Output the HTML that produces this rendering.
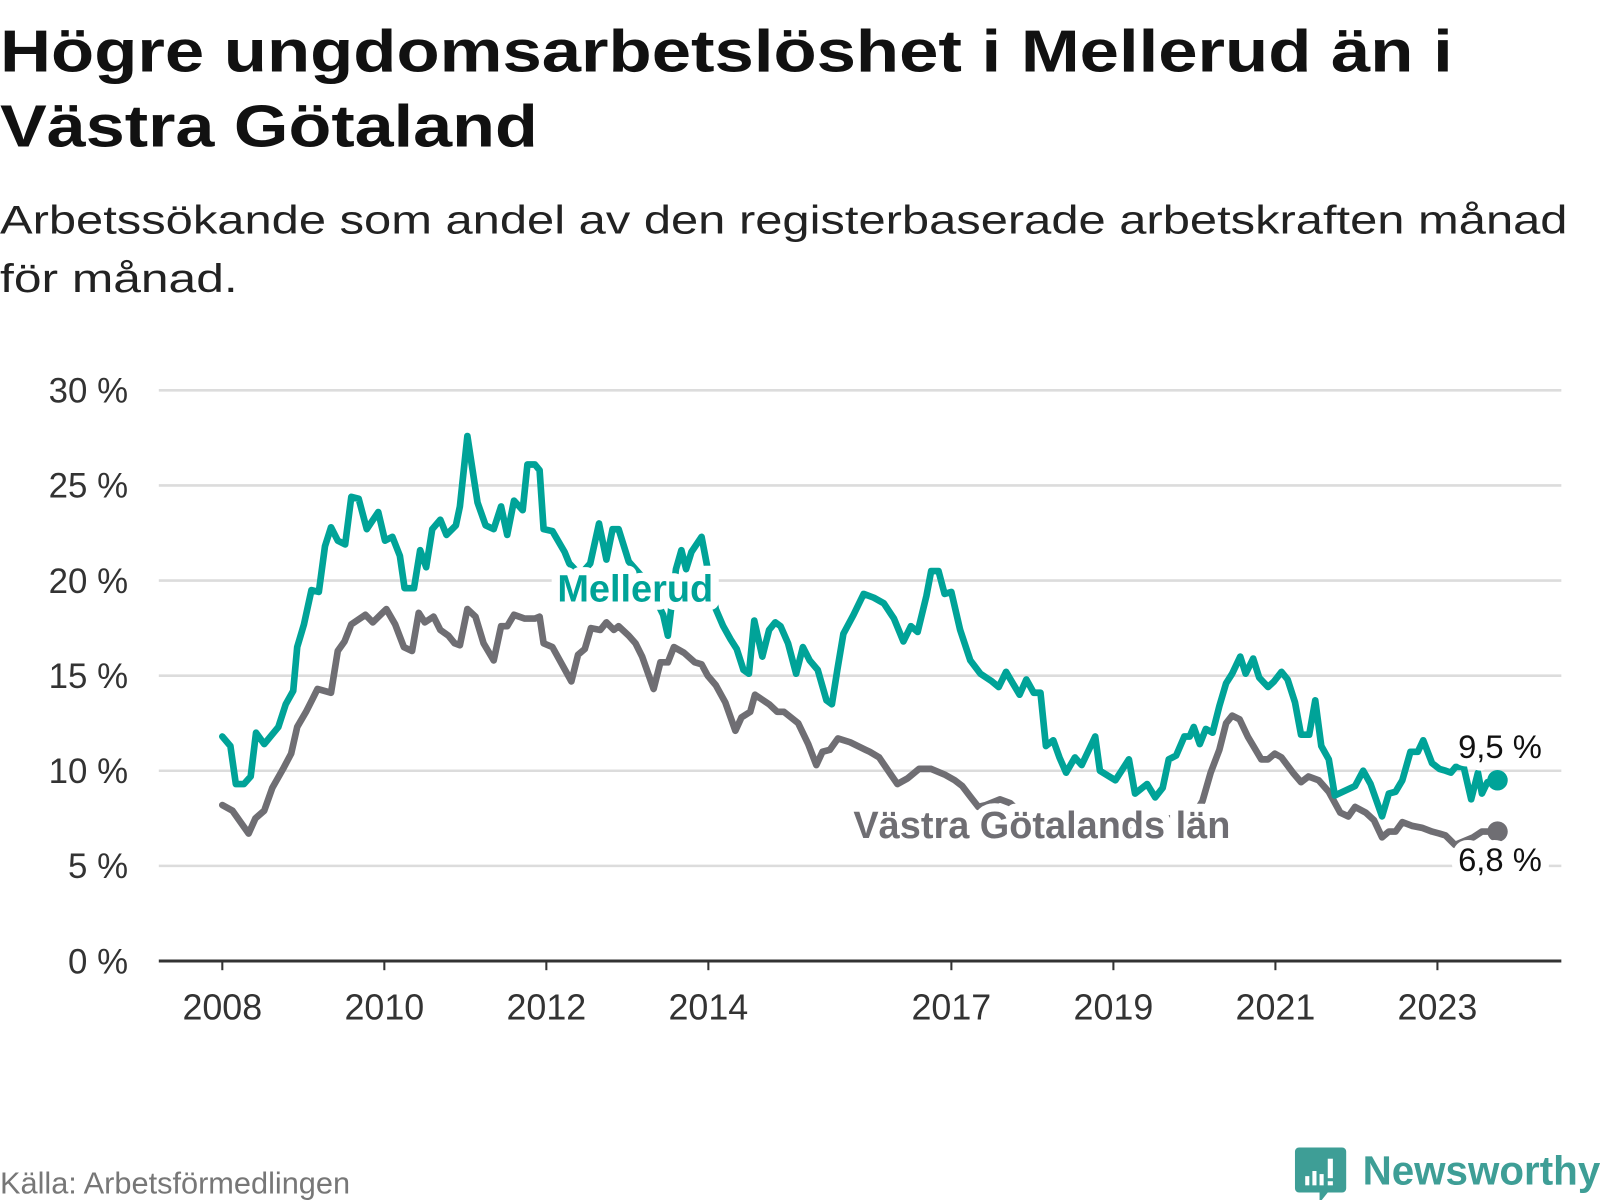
<!DOCTYPE html>
<html><head><meta charset="utf-8"><style>
html,body{margin:0;padding:0;background:#fff;}
svg{display:block;font-family:"Liberation Sans",sans-serif;}
</style></head><body>
<svg id="chart" width="1600" height="1200" viewBox="0 0 1600 1200">
<g transform="scale(1.0245)">
<text x="0" y="70" font-size="58" font-weight="bold" fill="#111" textLength="1418" lengthAdjust="spacingAndGlyphs">Högre ungdomsarbetslöshet i Mellerud än i</text>
<text x="0" y="143" font-size="58" font-weight="bold" fill="#111" textLength="525" lengthAdjust="spacingAndGlyphs">Västra Götaland</text>
<text x="0" y="228" font-size="39" fill="#222" textLength="1530" lengthAdjust="spacingAndGlyphs">Arbetssökande som andel av den registerbaserade arbetskraften månad</text>
<text x="0" y="285" font-size="39" fill="#222" textLength="232" lengthAdjust="spacingAndGlyphs">för månad.</text>
<g id="grid"></g>
<g id="xaxis"></g>
<g id="lines"></g>
<text x="0" y="1165" font-size="30" fill="#777">Källa: Arbetsförmedlingen</text>
<g>
<path d="M1268 1120 h42 a4 4 0 0 1 4 4 v36 a4 4 0 0 1 -4 4 h-14 l-8 10 v-10 h-20 a4 4 0 0 1 -4 -4 v-36 a4 4 0 0 1 4 -4z" fill="#3e9e96"/>
<rect x="1274" y="1148" width="4" height="9" fill="#fff"/><rect x="1281" y="1143" width="4" height="14" fill="#fff"/><rect x="1288" y="1146" width="4" height="11" fill="#fff"/><rect x="1296" y="1131" width="5" height="19" fill="#fff"/><rect x="1296" y="1153" width="5" height="4" fill="#fff"/>
<text x="1330" y="1156" font-size="40" font-weight="bold" fill="#3e9e96" textLength="232" lengthAdjust="spacingAndGlyphs">Newsworthy</text>
</g>
</g>
</svg>
<script>
const yTicks = [0, 5, 10, 15, 20, 25, 30];
const xTickYears = [2008, 2010, 2012, 2014, 2017, 2019, 2021, 2023];
// months since Jan 2008
const mellerudMonths = [0,1.2,2.0,3.2,4.2,5.0,6.2,8.3,9.4,10.5,11.1,12.1,13.2,14.3,15.2,16.1,17.1,18.2,19.1,20.2,21.4,23.1,24.1,25.2,26.3,27.0,28.4,29.3,30.2,31.1,32.3,33.2,34.6,35.2,36.3,37.8,39.0,40.2,41.3,42.2,43.2,44.5,45.2,46.3,47.0,47.6,48.9,50.7,51.4,53.0,54.5,55.8,56.9,57.8,58.7,60.2,62.7,64.2,65.3,66.0,67.2,68.0,68.7,69.5,71.0,71.9,73.1,74.2,75.3,76.2,77.2,78.0,78.8,80.0,81.0,81.9,82.7,83.8,85.0,86.0,87.0,88.2,89.5,90.3,91.1,92.0,93.5,95.0,96.5,98.0,99.5,100.9,102.0,103.0,104.3,105.0,106.1,107.0,108.0,109.3,110.8,112.3,114.0,115.0,116.1,118.1,119.1,120.2,121.2,122.0,123.1,124.0,125.0,126.3,127.3,129.3,130.0,132.3,134.3,135.2,137.0,138.2,139.3,140.2,141.3,142.5,143.3,143.9,144.8,145.7,146.7,147.7,148.7,149.6,150.8,151.6,152.7,153.6,154.9,155.8,156.9,157.8,158.9,159.8,161.0,161.9,162.8,163.9,164.8,167.8,169.0,170.1,171.8,172.8,173.8,174.8,176.0,177.1,177.9,179.2,180.3,181.2,182.0,182.7,183.9,185.0,186.0,186.6,187.4,188.9];
const mellerudValues = [11.8,11.3,9.3,9.3,9.7,12.0,11.4,12.3,13.5,14.2,16.5,17.7,19.5,19.4,21.8,22.8,22.1,21.9,24.4,24.3,22.7,23.6,22.1,22.3,21.3,19.6,19.6,21.6,20.7,22.7,23.2,22.4,22.9,23.9,27.6,24.1,22.9,22.7,23.9,22.4,24.2,23.7,26.1,26.1,25.8,22.7,22.6,21.5,20.9,20.3,20.9,23.0,21.1,22.7,22.7,21.0,20.0,19.0,18.2,17.1,20.6,21.6,20.6,21.5,22.3,20.6,18.5,17.6,16.9,16.4,15.3,15.1,17.9,16.0,17.4,17.8,17.6,16.7,15.1,16.5,15.8,15.3,13.7,13.5,15.3,17.2,18.2,19.3,19.1,18.8,18.0,16.8,17.6,17.3,19.2,20.5,20.5,19.3,19.4,17.4,15.8,15.1,14.7,14.4,15.2,14.0,14.8,14.1,14.1,11.3,11.6,10.7,9.9,10.7,10.3,11.8,10.0,9.5,10.6,8.8,9.3,8.6,9.1,10.6,10.8,11.8,11.8,12.3,11.4,12.2,12.0,13.4,14.6,15.1,16.0,15.1,15.9,14.9,14.4,14.7,15.2,14.8,13.6,11.9,11.9,13.7,11.3,10.6,8.7,9.2,10.0,9.3,7.6,8.8,8.9,9.5,11.0,11.0,11.6,10.4,10.1,10.0,9.9,10.2,10.2,8.5,9.9,8.8,9.4,9.5];
const vgMonths = [0,1.5,3.9,4.9,6.2,7.4,9.0,10.2,11.1,12.4,13.4,14.1,16.1,17.1,18.1,19.1,21.2,22.3,24.3,25.6,26.9,28.1,29.1,30.0,31.3,32.3,33.5,34.4,35.2,36.3,37.5,38.7,40.2,41.3,42.2,43.2,44.8,46.3,47.0,47.6,48.9,51.7,52.7,53.7,54.6,56.0,56.9,58.0,58.7,60.2,61.2,62.2,63.9,64.9,66.0,66.9,68.4,70.0,71.0,71.9,73.1,74.5,76.0,76.9,78.2,78.9,81.0,82.2,83.2,85.3,86.8,88.0,88.9,90.0,91.2,93.0,95.3,95.9,97.3,100.0,101.5,103.2,105.0,107.0,108.5,109.6,110.9,112.0,113.1,115.2,116.7,118.8,123.4,127.9,132.5,137.0,141.6,144.5,145.2,146.4,147.7,148.7,149.6,150.7,151.9,153.9,154.9,155.9,156.9,158.6,159.8,160.9,162.4,163.9,165.6,166.8,167.8,169.4,170.6,171.8,172.8,173.8,174.8,176.3,177.7,179.2,180.3,181.2,182.6,185.3,186.6,188.9];
const vgValues = [8.2,7.9,6.7,7.5,7.9,9.1,10.1,10.9,12.3,13.1,13.8,14.3,14.1,16.3,16.8,17.7,18.2,17.8,18.5,17.7,16.5,16.3,18.3,17.8,18.1,17.4,17.1,16.7,16.6,18.5,18.1,16.7,15.8,17.6,17.6,18.2,18.0,18.0,18.1,16.7,16.5,14.7,16.1,16.4,17.5,17.4,17.8,17.4,17.6,17.1,16.7,16.0,14.3,15.7,15.7,16.5,16.2,15.7,15.6,15.0,14.5,13.6,12.1,12.8,13.1,14.0,13.5,13.1,13.1,12.5,11.4,10.3,11.0,11.1,11.7,11.5,11.1,11.0,10.7,9.3,9.6,10.1,10.1,9.8,9.5,9.2,8.6,8.1,8.2,8.5,8.3,7.6,7.2,7.0,7.0,7.2,7.6,8.0,8.4,9.9,11.1,12.5,12.9,12.7,11.8,10.6,10.6,10.9,10.7,9.9,9.4,9.7,9.5,8.9,7.8,7.6,8.1,7.8,7.4,6.5,6.8,6.8,7.3,7.1,7.0,6.8,6.7,6.6,6.1,6.5,6.8,6.8];
const seriesLabels = ["Mellerud", "Västra Götalands län"];
const endLabels = ["9,5 %", "6,8 %"];

const NS = "http://www.w3.org/2000/svg";
const X0 = 217, PX_PER_MONTH = 79.07/12, Y0 = 938, PX_PER_PCT = 557/30;
const xScale = m => X0 + m * PX_PER_MONTH;
const xYear = y => xScale((y - 2008) * 12);
const yScale = v => Y0 - v * PX_PER_PCT;
function mk(tag, attrs, parent){ const e=document.createElementNS(NS,tag); for(const k in attrs) e.setAttribute(k,attrs[k]); parent.appendChild(e); return e; }

const grid = document.getElementById('grid');
yTicks.forEach(t => {
  if (t > 0) {
    const l = mk('line',{x1:155,x2:1524,y1:yScale(t),y2:yScale(t),stroke:'#dcdcdc','stroke-width':2.5},grid);
    
    
  }
  const tx = mk('text',{x:125,y:yScale(t)+12,'text-anchor':'end','font-size':34,fill:'#333'},grid);
  tx.textContent = t + ' %';
  
  
});
const xa = document.getElementById('xaxis');
const ax = mk('line',{x1:155,x2:1524,y1:Y0,y2:Y0,stroke:'#333','stroke-width':3},xa);


xTickYears.forEach(yr => {
  const x = xYear(yr);
  const tk = mk('line',{x1:x,x2:x,y1:Y0,y2:Y0+9,stroke:'#333','stroke-width':2},xa);
  
  
  const tx = mk('text',{x:x,y:Y0+57,'text-anchor':'middle','font-size':35,fill:'#333'},xa);
  tx.textContent = yr;
  
  
});

const lines = document.getElementById('lines');
function drawSeries(months, values, color, name){
  const d = months.map((m,i)=>(i?'L':'M')+xScale(m).toFixed(1)+' '+yScale(values[i]).toFixed(1)).join(' ');
  const p = mk('path',{d:d,fill:'none',stroke:color,'stroke-width':6.5,'stroke-linejoin':'round','stroke-linecap':'round'},lines);
  
  
  const n = months.length-1;
  const c = mk('circle',{cx:xScale(months[n]),cy:yScale(values[n]),r:10,fill:color},lines);
  
  
}
drawSeries(vgMonths, vgValues, '#6f6e73', 'vastra-gotaland');
drawSeries(mellerudMonths, mellerudValues, '#00a398', 'mellerud');

function label(txt, x, y, size, color, bold, name, anchor){
  const t = mk('text',{x:x,y:y,'font-size':size,fill:color,'font-weight':bold?'bold':'normal',stroke:'#fff','stroke-width':16,'stroke-linejoin':'round','paint-order':'stroke','text-anchor':anchor||'start'},lines);
  t.textContent = txt;
  
  
  return t;
}
label(seriesLabels[0], 544, 587, 37, '#00a398', true, 'mellerud-series-label');
label(seriesLabels[1], 833, 818, 37, '#6f6e73', true, 'vastra-gotaland-series-label');
label(endLabels[0], 1505, 740, 32, '#111', false, 'mellerud-end-value', 'end');
label(endLabels[1], 1505, 850, 32, '#111', false, 'vastra-gotaland-end-value', 'end');
</script>
</body></html>
